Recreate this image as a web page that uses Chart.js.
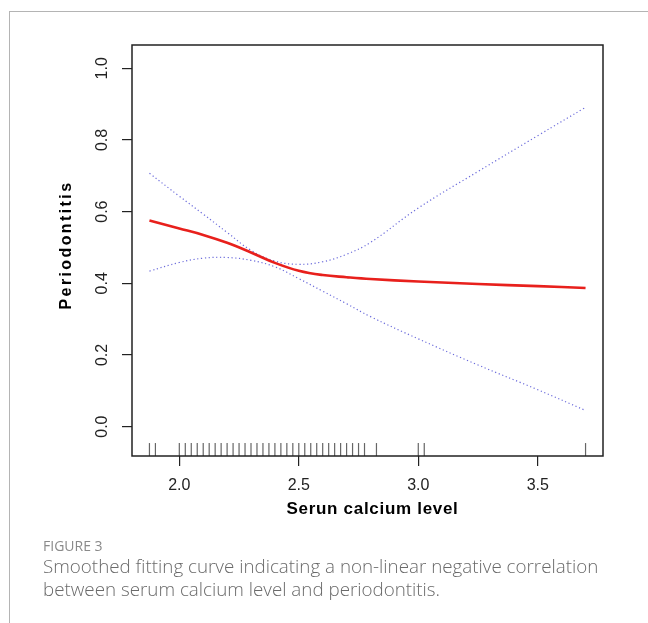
<!DOCTYPE html>
<html>
<head>
<meta charset="utf-8">
<script src="https://cdn.jsdelivr.net/npm/chart.js@4.4.1/dist/chart.umd.min.js"></script>
<style>
  html,body{margin:0;padding:0;background:#fff;}
  #wrap{position:relative;width:648px;height:623px;overflow:hidden;}
  #frame{position:absolute;left:9px;top:11px;right:0;bottom:0;border-top:1.5px solid #b4b4b4;border-left:1.5px solid #b4b4b4;}
  canvas{position:absolute;left:0;top:0;}
  .cap{position:absolute;left:43px;font-family:"Open Sans",sans-serif;white-space:nowrap;}
  #fig{top:536px;font-size:14px;line-height:20px;color:#8a8a8a;}
  #txt{top:555px;font-size:18.8px;line-height:23px;color:#6a6a6a;font-weight:300;}
</style>
</head>
<body>
<div id="wrap">
  <div id="frame"></div>
  <canvas id="c" width="648" height="623"></canvas>
  <div class="cap" id="fig">FIGURE 3</div>
  <div class="cap" id="txt">Smoothed fitting curve indicating a non-linear negative correlation<br>between serum calcium level and periodontitis.</div>
</div>
<script>
// serum calcium (mmol/L) at which curve values were read
const xFit  = [1.875, 2.0, 2.1, 2.2, 2.3, 2.4, 2.5, 2.6, 2.7, 2.8, 3.0, 3.25, 3.5, 3.7];
const fit   = [0.575, 0.553, 0.535, 0.513, 0.486, 0.457, 0.435, 0.423, 0.417, 0.412, 0.405, 0.398, 0.392, 0.387];
const upper = [0.707, 0.643, 0.593, 0.542, 0.492, 0.462, 0.453, 0.460, 0.481, 0.514, 0.610, 0.712, 0.812, 0.891];
const lower = [0.434, 0.458, 0.470, 0.472, 0.464, 0.446, 0.413, 0.378, 0.343, 0.307, 0.245, 0.172, 0.103, 0.045];
// observed values (rug)
const rugX = [1.875, 1.9, 2.0, 2.025, 2.05, 2.075, 2.1, 2.125, 2.15, 2.175, 2.2, 2.225, 2.25, 2.275,
  2.3, 2.325, 2.35, 2.375, 2.4, 2.425, 2.45, 2.475, 2.5, 2.525, 2.55, 2.575, 2.6, 2.625, 2.65,
  2.675, 2.7, 2.725, 2.75, 2.775, 2.825, 3.0, 3.025, 3.7];
const xTicks = [2.0, 2.5, 3.0, 3.5];
const yTicks = [0.0, 0.2, 0.4, 0.6, 0.8, 1.0];
const xMin = 1.802, xMax = 3.773, yMin = -0.082, yMax = 1.065;

const FONT = '"Liberation Sans", Arial, sans-serif';
const pts = ys => xFit.map((x,i)=>({x, y:ys[i]}));

const boxAndLabels = {
  id:'boxAndLabels',
  afterDraw(chart){
    const {ctx, chartArea:a, scales:{y}} = chart;
    ctx.save();
    ctx.strokeStyle='#222'; ctx.lineWidth=1.5;
    ctx.strokeRect(a.left, a.top, a.right-a.left, a.bottom-a.top);
    ctx.fillStyle='#222';
    ctx.textAlign='center'; ctx.textBaseline='middle';
    ctx.font='16px '+FONT;
    yTicks.forEach(v=>{
      ctx.save();
      ctx.translate(103, y.getPixelForValue(v));
      ctx.rotate(-Math.PI/2);
      ctx.fillText(v.toFixed(1), 0, 0);
      ctx.restore();
    });
    ctx.fillStyle='#000';
    ctx.font='bold 17px '+FONT;
    ctx.save();
    ctx.letterSpacing='0.7px';
    ctx.fillText('Serun calcium level', (a.left+a.right)/2 + 5, 509);
    ctx.restore();
    ctx.font='bold 16px '+FONT;
    ctx.save();
    ctx.translate(67, 245);
    ctx.rotate(-Math.PI/2);
    ctx.letterSpacing='2.4px';
    ctx.fillText('Periodontitis', 0, 0);
    ctx.restore();
    ctx.restore();
  }
};

new Chart(document.getElementById('c'), {
  type:'scatter',
  data:{
    datasets:[
      {data:pts(fit), showLine:true, borderColor:'#e8201c', borderWidth:2.6, pointRadius:0, tension:0.4},
      {data:pts(upper), showLine:true, borderColor:'rgba(70,70,210,0.8)', borderWidth:1.2, borderDash:[1.2,2.6], pointRadius:0, tension:0.4},
      {data:pts(lower), showLine:true, borderColor:'rgba(70,70,210,0.8)', borderWidth:1.2, borderDash:[1.2,2.6], pointRadius:0, tension:0.4},
      {data:rugX.map(x=>({x, y:-0.064})), showLine:false, pointStyle:'line', rotation:90, pointRadius:6.5, borderColor:'#666', borderWidth:1.2}
    ]
  },
  options:{
    responsive:false, animation:false, devicePixelRatio:1,
    layout:{padding:{left:0, top:45, right:45, bottom:107}},
    plugins:{legend:{display:false}, tooltip:{enabled:false}},
    scales:{
      x:{type:'linear', min:xMin, max:xMax,
        afterBuildTicks:s=>{ s.ticks = xTicks.map(v=>({value:v})); },
        afterFit:s=>{ s.height = 60; },
        border:{display:false},
        grid:{drawOnChartArea:false, drawTicks:true, tickLength:10, color:'#222', lineWidth:1.2},
        ticks:{padding:10, color:'#222', font:{family:FONT, size:16}, callback:v=>v.toFixed(1), maxRotation:0}
      },
      y:{type:'linear', min:yMin, max:yMax,
        afterBuildTicks:s=>{ s.ticks = yTicks.map(v=>({value:v})); },
        afterFit:s=>{ s.width = 132; },
        border:{display:false},
        grid:{drawOnChartArea:false, drawTicks:true, tickLength:10, color:'#222', lineWidth:1.2},
        ticks:{display:false}
      }
    }
  },
  plugins:[boxAndLabels]
});
</script>
</body>
</html>
